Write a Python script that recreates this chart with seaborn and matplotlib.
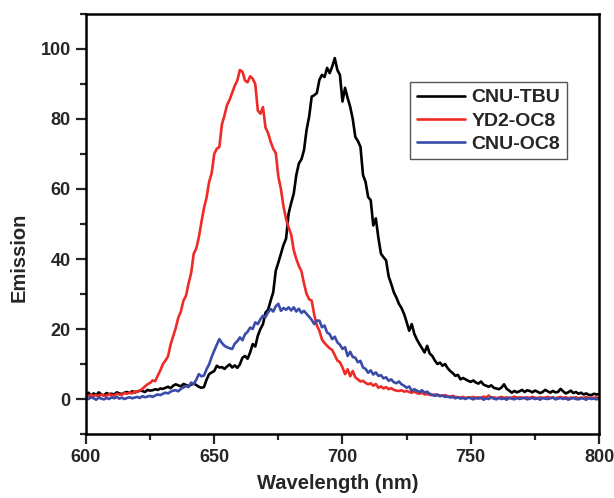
import numpy as np
import pandas as pd
import matplotlib
matplotlib.use("Agg")
import matplotlib.pyplot as plt
import seaborn as sns
from matplotlib.ticker import MultipleLocator
from matplotlib import font_manager

wavelength = list(range(600, 801))

cnu_tbu = [
    1.2, 1.8, 0.9, 1.6, 1.1, 1.9, 1.3, 1.0, 1.7, 1.4, 1.5,
    1.3, 1.9, 1.6, 1.4, 1.8, 2.0, 1.7, 2.2, 1.9, 2.1,
    2.4, 2.3, 2.0, 2.6, 2.4, 2.5, 2.8, 2.6, 3.0, 2.9,
    3.2, 3.5, 3.1, 3.8, 4.2, 3.9, 3.6, 4.3, 4.0, 3.7,
    4.1, 4.4, 4.0, 3.5, 3.2, 3.4, 5.5, 7.1, 7.6, 8.0,
    9.5, 9.0, 9.1, 8.6, 9.3, 9.9, 9.0, 9.6, 8.9, 9.9,
    11.8, 12.3, 11.5, 13.3, 15.7, 15.0, 18.1, 20.0, 21.4, 24.7,
    25.5, 28.1, 30.5, 36.7, 39.0, 41.5, 44.0, 45.8, 53.0, 56.0,
    58.7, 64.0, 67.3, 68.5, 71.1, 76.9, 80.7, 86.4, 86.8, 87.4,
    91.2, 92.6, 92.0, 94.6, 93.1, 95.0, 97.4, 94.0, 92.6, 85.0,
    88.9, 86.0, 83.5, 80.0, 74.9, 73.7, 72.1, 64.0, 62.0, 57.7,
    56.8, 49.6, 51.6, 46.0, 41.5, 40.5, 39.6, 35.0, 32.9, 30.5,
    29.0, 27.2, 26.0, 24.3, 22.0, 19.5, 21.4, 18.6, 17.0, 15.7,
    14.5, 13.3, 15.2, 13.0, 12.3, 11.0, 10.0, 10.4, 9.5, 10.0,
    8.8, 8.0, 7.4, 6.6, 6.9, 5.6, 6.0, 5.6, 5.2, 4.9,
    5.3, 4.7, 4.4, 5.0, 4.1, 3.8, 3.5, 3.9, 3.2, 3.0,
    2.8, 3.3, 4.2, 2.9, 2.4, 1.8, 2.3, 1.9, 2.2, 2.6,
    2.0, 2.5, 2.3, 1.9, 2.4, 2.1, 1.7, 2.0, 2.6, 2.2,
    1.8, 2.3, 1.9, 2.0, 2.9, 2.2, 1.6, 1.9, 2.4, 1.7,
    2.0, 1.5, 1.8, 1.3, 1.6, 1.2, 1.1, 1.5, 1.3, 1.4,
]

yd2_oc8 = [
    1.0, 0.8, 1.2, 0.9, 1.1, 0.7, 1.3, 1.0, 0.9, 1.4, 1.1,
    1.0, 1.5, 1.3, 1.2, 1.7, 1.5, 1.9, 1.6, 2.2, 2.0,
    2.4, 2.9, 3.6, 4.2, 4.6, 5.3, 5.1, 6.7, 8.2, 10.0,
    11.0, 12.2, 15.6, 18.0, 20.3, 23.3, 25.0, 28.1, 29.5, 33.0,
    36.0, 41.5, 43.0, 46.2, 50.5, 54.5, 57.5, 62.0, 64.5, 70.0,
    71.5, 72.0, 78.5, 81.0, 84.0, 85.5, 87.5, 89.5, 91.0, 94.0,
    93.5, 91.0, 90.5, 92.2, 91.5, 90.0, 82.4, 81.5, 83.4, 77.5,
    76.0, 73.5, 71.5, 70.3, 63.5, 60.0, 55.0, 51.5, 49.0, 47.0,
    42.5, 40.0, 38.0, 36.5, 33.0, 30.0, 28.5, 28.1, 24.0, 21.0,
    19.5, 17.0, 16.0, 15.2, 14.5, 14.0, 12.5, 11.0, 10.5, 9.0,
    7.1, 8.5, 6.5, 8.0, 6.2, 5.6, 5.0, 5.2, 4.6, 4.2,
    4.5, 3.8, 4.3, 3.2, 3.6, 3.0, 3.4, 2.8, 3.1, 2.6,
    2.4, 2.3, 2.5, 2.1, 2.3, 2.0, 1.8, 2.1, 1.7, 1.5,
    1.8, 1.3, 1.4, 1.2, 1.1, 1.3, 1.0, 1.0, 0.9, 1.1,
    0.8, 0.7, 0.9, 0.6, 0.5, 0.4, 0.6, 0.3, 0.5, 0.4,
    0.6, 0.3, 0.5, 0.2, 0.7, 0.4, 1.0, 0.3, 0.5, 0.2,
    0.4, 0.6, 0.3, 0.5, 0.2, 0.4, 0.7, 0.3, 0.5, 0.4,
    0.2, 0.5, 0.3, 0.6, 0.4, 0.2, 0.5, 0.3, 0.4, 0.6,
    0.3, 0.5, 0.2, 0.4, 0.6, 0.3, 0.5, 0.2, 0.4, 0.3,
    0.5, 0.2, 0.4, 0.3, 0.6, 0.2, 0.4, 0.3, 0.5, 0.2,
]

cnu_oc8 = [
    0.3, 0.0, 0.5, 0.2, -0.2, 0.4, 0.1, -0.1, 0.3, 0.0, 0.5,
    0.2, 0.6, 0.1, 0.4, 0.0, 0.3, 0.5, 0.2, 0.4, 0.6,
    0.3, 0.8, 0.5, 0.7, 0.9, 0.6, 1.0, 1.3, 1.1, 1.5,
    1.8, 1.6, 2.1, 2.4, 2.5, 2.2, 2.9, 3.3, 3.7, 3.4,
    4.7, 4.3, 5.5, 7.1, 6.5, 6.7, 8.5, 9.9, 12.0, 13.8,
    15.5, 17.1, 16.0, 15.2, 14.8, 14.5, 14.3, 15.8, 16.5, 17.6,
    16.8, 18.5, 19.2, 20.4, 20.0, 21.9, 21.4, 22.8, 23.8, 23.4,
    24.8, 25.7, 25.0, 26.5, 27.2, 25.2, 26.0, 25.5, 26.2, 25.3,
    26.2, 25.0, 25.8, 24.6, 25.2, 24.3, 23.5, 22.6, 21.4, 22.4,
    22.4, 20.5, 21.0, 19.0, 18.5, 17.1, 17.8, 16.2, 15.5, 14.3,
    14.8, 12.3, 13.5, 12.0, 11.8, 10.5, 10.9, 9.0, 8.6, 7.5,
    8.2, 7.0, 7.6, 6.6, 6.8, 5.9, 6.2, 5.2, 5.6, 4.8,
    4.5, 5.0, 4.2, 3.8, 3.2, 3.6, 2.3, 2.8, 2.4, 2.0,
    2.5, 1.8, 2.1, 1.5, 1.2, 0.9, 1.3, 0.8, 1.0, 0.6,
    0.8, 0.4, 0.6, 0.2, 0.5, 0.1, 0.3, 0.0, 0.4, 0.2,
    -0.1, 0.3, 0.1, 0.4, -0.2, 0.2, 0.0, 0.5, 0.1, -0.1,
    0.3, 0.0, 0.2, -0.2, 0.4, 0.1, -0.1, 0.3, 0.0, 0.2,
    0.4, -0.1, 0.1, 0.3, 0.0, 0.2, -0.2, 0.3, 0.1, 0.0,
    0.2, 0.4, -0.1, 0.1, 0.3, 0.0, 0.2, -0.2, 0.1, 0.3,
    0.0, -0.1, 0.2, 0.1, -0.2, 0.3, 0.0, 0.1, -0.1, 0.2,
]

series_names = ["CNU-TBU", "YD2-OC8", "CNU-OC8"]
series_colors = ["#000000", "#EE2B27", "#3A4CA8"]

n = min(len(wavelength), len(cnu_tbu), len(yd2_oc8), len(cnu_oc8))
df = pd.concat([
    pd.DataFrame({"Wavelength": wavelength[:n], "Emission": vals[:n], "Sample": name})
    for name, vals in zip(series_names, [cnu_tbu, yd2_oc8, cnu_oc8])
], ignore_index=True)

sns.set_style("ticks")
avail = {f.name for f in font_manager.fontManager.ttflist}
main_font = ["Liberation Sans", "DejaVu Sans"]
tick_font = ["Liberation Sans Narrow", "Liberation Sans", "DejaVu Sans"] if "Liberation Sans Narrow" in avail else main_font
plt.rcParams["font.family"] = main_font

fig = plt.figure(figsize=(6.14, 4.98), dpi=100)
ax = fig.add_axes([0.140, 0.1285, 0.8356, 0.8434])

sns.lineplot(data=df, x="Wavelength", y="Emission", hue="Sample",
             hue_order=series_names, palette=series_colors,
             linewidth=1.9, ax=ax, estimator=None, sort=True)

ax.set_xlim(600, 800)
ax.set_ylim(-10, 110)
ax.xaxis.set_major_locator(MultipleLocator(50))
ax.xaxis.set_minor_locator(MultipleLocator(25))
ax.yaxis.set_major_locator(MultipleLocator(20))
ax.yaxis.set_minor_locator(MultipleLocator(10))
ax.set_yticks([0, 20, 40, 60, 80, 100])

for s in ax.spines.values():
    s.set_visible(True)
    s.set_linewidth(1.8)
    s.set_color("black")

ax.tick_params(axis="both", which="major", direction="out", length=7, width=1.6,
               labelsize=13, pad=4, top=False, right=False)
ax.tick_params(axis="both", which="minor", direction="out", length=4, width=1.6,
               top=False, right=False)
for lab in ax.get_xticklabels() + ax.get_yticklabels():
    lab.set_fontweight("bold")
    lab.set_family(tick_font)

ax.set_xlabel("Wavelength (nm)", fontsize=14.5, fontweight="bold")
ax.set_ylabel("Emission", fontsize=14.5, fontweight="bold")
ax.xaxis.set_label_coords(0.49, -0.095)
ax.yaxis.set_label_coords(-0.112, 0.42)

leg = ax.legend(loc="upper right", bbox_to_anchor=(0.9376, 0.838), borderaxespad=0,
                frameon=True, fancybox=False, edgecolor="#555555", framealpha=1,
                prop={"weight": "bold", "size": 14}, handlelength=2.5,
                handletextpad=0.3, labelspacing=0.28, borderpad=0.35)
leg.get_frame().set_linewidth(1.0)
for line in leg.get_lines():
    line.set_linewidth(1.9)

fig.savefig("out.png", dpi=100)
